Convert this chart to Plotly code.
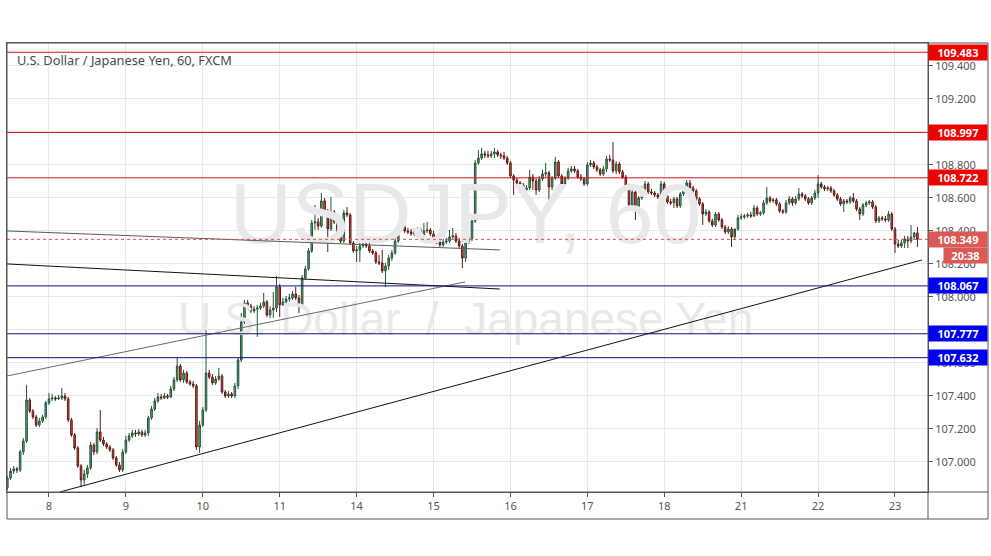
import plotly.graph_objects as go
import pandas as pd

# ---------------- data (USD/JPY, 60 min, FXCM) ----------------
opens = [106.842, 106.903, 106.945, 106.958, 106.952, 107.061, 107.127, 107.376, 107.309, 107.273, 107.224, 107.248, 107.273,
         107.358, 107.382, 107.388, 107.382, 107.388, 107.400, 107.382, 107.255, 107.164, 107.085, 106.976, 106.891, 106.927, 106.964, 107.103, 107.061, 107.182, 107.133, 107.109, 107.091, 107.073, 107.024, 106.982, 106.952,
         107.061, 107.133, 107.158, 107.176, 107.170, 107.182, 107.164, 107.176, 107.267, 107.321, 107.370, 107.394, 107.388, 107.400, 107.394, 107.442, 107.497, 107.582, 107.497, 107.539, 107.485, 107.473, 107.461, 107.091,
         107.224, 107.315, 107.539, 107.515, 107.479, 107.503, 107.521, 107.424, 107.400, 107.412, 107.400, 107.461, 107.618, 107.848, 107.964, 107.945, 107.915, 107.927, 107.933, 107.945, 107.970, 107.891, 107.921, 107.933,
         108.061, 107.952, 107.970, 107.988, 107.994, 108.018, 107.994, 107.952, 108.115, 108.170, 108.279, 108.448, 108.455, 108.430, 108.582, 108.521, 108.412, 108.515, 108.455, 108.382, 108.339, 108.509, 108.497, 108.327,
         108.279, 108.285, 108.309, 108.321, 108.309, 108.279, 108.267, 108.212, 108.206, 108.158, 108.188, 108.236, 108.267, 108.339, 108.430, 108.424, 108.400, 108.394, 108.382, 108.400, 108.406, 108.376, 108.400, 108.406,
         108.382, 108.352, 108.333, 108.315, 108.333, 108.339, 108.364, 108.370, 108.339, 108.309, 108.236, 108.333, 108.352, 108.461, 108.812, 108.842, 108.867, 108.861, 108.855, 108.867, 108.879, 108.861, 108.855, 108.842,
         108.812, 108.733, 108.709, 108.691, 108.679, 108.648, 108.661, 108.727, 108.703, 108.648, 108.715, 108.745, 108.752, 108.667, 108.721, 108.818, 108.733, 108.685, 108.721, 108.764, 108.776, 108.764, 108.727, 108.715,
         108.685, 108.800, 108.812, 108.788, 108.770, 108.745, 108.776, 108.836, 108.830, 108.764, 108.806, 108.758, 108.727, 108.673, 108.558, 108.636, 108.527, 108.600, 108.655, 108.685, 108.636, 108.630, 108.618, 108.606,
         108.685, 108.612, 108.576, 108.570, 108.594, 108.552, 108.624, 108.642, 108.691, 108.661, 108.642, 108.594, 108.564, 108.503, 108.515, 108.461, 108.436, 108.503, 108.467, 108.424, 108.394, 108.412, 108.364, 108.412,
         108.479, 108.485, 108.491, 108.497, 108.491, 108.539, 108.503, 108.509, 108.570, 108.600, 108.582, 108.588, 108.564, 108.521, 108.515, 108.570, 108.594, 108.570, 108.594, 108.624, 108.612, 108.594, 108.570, 108.600,
         108.630, 108.685, 108.667, 108.655, 108.661, 108.642, 108.618, 108.594, 108.564, 108.582, 108.576, 108.600, 108.582, 108.533, 108.503, 108.558, 108.570, 108.576, 108.545, 108.461, 108.479, 108.473, 108.467, 108.503,
         108.412, 108.321, 108.309, 108.327, 108.352, 108.339, 108.364, 108.388]

highs = [106.915, 106.964, 106.976, 106.970, 107.073, 107.145, 107.467, 107.388, 107.321, 107.285, 107.267, 107.285, 107.370,
         107.418, 107.412, 107.400, 107.406, 107.448, 107.418, 107.394, 107.267, 107.176, 107.097, 106.988, 106.952, 106.982, 107.121, 107.115, 107.206, 107.315, 107.152, 107.121, 107.103, 107.085, 107.036, 107.000, 107.079,
         107.158, 107.176, 107.194, 107.194, 107.200, 107.194, 107.194, 107.279, 107.339, 107.388, 107.418, 107.412, 107.418, 107.412, 107.461, 107.515, 107.636, 107.594, 107.558, 107.552, 107.497, 107.491, 107.473, 107.248,
         107.333, 107.800, 107.558, 107.533, 107.521, 107.570, 107.533, 107.436, 107.430, 107.424, 107.479, 107.636, 107.903, 107.982, 107.982, 107.958, 107.945, 107.952, 107.964, 108.024, 107.982, 107.945, 108.030, 108.127,
         108.079, 107.994, 108.006, 108.018, 108.036, 108.061, 108.012, 108.133, 108.188, 108.297, 108.467, 108.558, 108.479, 108.630, 108.600, 108.533, 108.606, 108.527, 108.467, 108.394, 108.527, 108.545, 108.509, 108.339,
         108.309, 108.327, 108.339, 108.364, 108.327, 108.291, 108.279, 108.255, 108.285, 108.206, 108.255, 108.285, 108.358, 108.448, 108.461, 108.442, 108.418, 108.412, 108.418, 108.424, 108.418, 108.448, 108.455, 108.418,
         108.400, 108.370, 108.352, 108.352, 108.358, 108.406, 108.418, 108.388, 108.358, 108.321, 108.345, 108.370, 108.479, 108.830, 108.891, 108.903, 108.885, 108.885, 108.885, 108.903, 108.891, 108.873, 108.879, 108.855,
         108.824, 108.745, 108.721, 108.703, 108.691, 108.679, 108.770, 108.745, 108.721, 108.733, 108.770, 108.812, 108.764, 108.733, 108.848, 108.830, 108.745, 108.733, 108.782, 108.794, 108.794, 108.776, 108.745, 108.727,
         108.818, 108.830, 108.824, 108.800, 108.782, 108.794, 108.855, 108.861, 108.939, 108.824, 108.818, 108.770, 108.739, 108.685, 108.655, 108.648, 108.612, 108.673, 108.703, 108.697, 108.655, 108.642, 108.630, 108.703,
         108.697, 108.624, 108.594, 108.606, 108.606, 108.636, 108.661, 108.709, 108.709, 108.673, 108.655, 108.606, 108.576, 108.533, 108.527, 108.473, 108.515, 108.515, 108.479, 108.436, 108.430, 108.424, 108.376, 108.497,
         108.503, 108.503, 108.509, 108.515, 108.558, 108.552, 108.521, 108.588, 108.667, 108.612, 108.600, 108.600, 108.576, 108.533, 108.588, 108.612, 108.606, 108.612, 108.661, 108.636, 108.624, 108.606, 108.612, 108.648,
         108.739, 108.697, 108.679, 108.673, 108.673, 108.655, 108.630, 108.606, 108.594, 108.594, 108.612, 108.630, 108.594, 108.545, 108.570, 108.582, 108.588, 108.588, 108.558, 108.491, 108.491, 108.491, 108.521, 108.515,
         108.424, 108.345, 108.345, 108.370, 108.370, 108.436, 108.394, 108.424]

lows = [106.830, 106.891, 106.927, 106.933, 106.939, 107.042, 107.115, 107.297, 107.261, 107.212, 107.212, 107.236, 107.261,
        107.345, 107.370, 107.370, 107.376, 107.376, 107.370, 107.242, 107.152, 107.073, 106.964, 106.848, 106.861, 106.903, 106.952, 107.042, 107.048, 107.121, 107.097, 107.079, 107.061, 107.012, 106.970, 106.939, 106.939,
        107.048, 107.121, 107.145, 107.152, 107.158, 107.152, 107.152, 107.158, 107.255, 107.309, 107.358, 107.376, 107.382, 107.382, 107.388, 107.430, 107.485, 107.485, 107.479, 107.473, 107.461, 107.448, 107.073, 107.055,
        107.212, 107.303, 107.503, 107.467, 107.467, 107.491, 107.412, 107.388, 107.388, 107.388, 107.388, 107.442, 107.606, 107.836, 107.933, 107.903, 107.903, 107.758, 107.921, 107.933, 107.879, 107.873, 107.873, 107.909,
        107.879, 107.945, 107.952, 107.970, 107.982, 107.982, 107.903, 107.939, 108.103, 108.158, 108.267, 108.406, 108.406, 108.418, 108.509, 108.273, 108.400, 108.442, 108.370, 108.327, 108.327, 108.485, 108.315, 108.267,
        108.212, 108.212, 108.297, 108.297, 108.267, 108.255, 108.200, 108.194, 108.145, 108.061, 108.164, 108.218, 108.255, 108.327, 108.406, 108.388, 108.382, 108.370, 108.370, 108.376, 108.364, 108.364, 108.388, 108.370,
        108.339, 108.321, 108.303, 108.303, 108.321, 108.327, 108.352, 108.327, 108.297, 108.176, 108.212, 108.321, 108.339, 108.448, 108.800, 108.830, 108.842, 108.842, 108.842, 108.842, 108.848, 108.836, 108.830, 108.800,
        108.721, 108.618, 108.679, 108.661, 108.630, 108.636, 108.648, 108.648, 108.618, 108.636, 108.703, 108.727, 108.576, 108.648, 108.709, 108.721, 108.673, 108.673, 108.709, 108.752, 108.752, 108.715, 108.703, 108.673,
        108.673, 108.788, 108.776, 108.758, 108.733, 108.733, 108.758, 108.818, 108.752, 108.745, 108.745, 108.715, 108.661, 108.539, 108.527, 108.467, 108.509, 108.588, 108.642, 108.624, 108.618, 108.606, 108.594, 108.594,
        108.600, 108.564, 108.558, 108.539, 108.539, 108.539, 108.612, 108.630, 108.648, 108.630, 108.582, 108.552, 108.436, 108.491, 108.448, 108.424, 108.424, 108.455, 108.412, 108.382, 108.382, 108.303, 108.345, 108.400,
        108.467, 108.473, 108.479, 108.479, 108.485, 108.491, 108.491, 108.497, 108.558, 108.570, 108.570, 108.552, 108.509, 108.503, 108.503, 108.558, 108.552, 108.558, 108.582, 108.600, 108.582, 108.558, 108.558, 108.588,
        108.600, 108.655, 108.642, 108.642, 108.630, 108.606, 108.582, 108.552, 108.515, 108.564, 108.564, 108.570, 108.521, 108.467, 108.491, 108.545, 108.558, 108.533, 108.448, 108.448, 108.461, 108.455, 108.455, 108.400,
        108.267, 108.297, 108.297, 108.297, 108.297, 108.327, 108.352, 108.303]

closes = [106.903, 106.945, 106.958, 106.952, 107.061, 107.127, 107.376, 107.309, 107.273, 107.224, 107.248, 107.273, 107.358,
          107.382, 107.388, 107.382, 107.388, 107.400, 107.382, 107.255, 107.164, 107.085, 106.976, 106.891, 106.927, 106.964, 107.103, 107.061, 107.182, 107.133, 107.109, 107.091, 107.073, 107.024, 106.982, 106.952, 107.061,
          107.133, 107.158, 107.176, 107.170, 107.182, 107.164, 107.176, 107.267, 107.321, 107.370, 107.394, 107.388, 107.400, 107.394, 107.442, 107.497, 107.582, 107.497, 107.539, 107.485, 107.473, 107.461, 107.091, 107.224,
          107.315, 107.539, 107.515, 107.479, 107.503, 107.521, 107.424, 107.400, 107.412, 107.400, 107.461, 107.618, 107.848, 107.964, 107.945, 107.915, 107.927, 107.933, 107.945, 107.970, 107.891, 107.921, 107.933, 108.061,
          107.952, 107.970, 107.988, 107.994, 108.018, 107.994, 107.952, 108.115, 108.170, 108.279, 108.448, 108.455, 108.430, 108.582, 108.521, 108.412, 108.515, 108.455, 108.382, 108.339, 108.509, 108.497, 108.327, 108.279,
          108.285, 108.309, 108.321, 108.309, 108.279, 108.267, 108.212, 108.206, 108.158, 108.188, 108.236, 108.267, 108.339, 108.430, 108.424, 108.400, 108.394, 108.382, 108.400, 108.406, 108.376, 108.400, 108.406, 108.382,
          108.352, 108.333, 108.315, 108.333, 108.339, 108.364, 108.370, 108.339, 108.309, 108.236, 108.333, 108.352, 108.461, 108.812, 108.842, 108.867, 108.861, 108.855, 108.867, 108.879, 108.861, 108.855, 108.842, 108.812,
          108.733, 108.709, 108.691, 108.679, 108.648, 108.661, 108.727, 108.703, 108.648, 108.715, 108.745, 108.752, 108.667, 108.721, 108.818, 108.733, 108.685, 108.721, 108.764, 108.776, 108.764, 108.727, 108.715, 108.685,
          108.800, 108.812, 108.788, 108.770, 108.745, 108.776, 108.836, 108.830, 108.764, 108.806, 108.758, 108.727, 108.673, 108.558, 108.636, 108.527, 108.600, 108.655, 108.685, 108.636, 108.630, 108.618, 108.606, 108.685,
          108.612, 108.576, 108.570, 108.594, 108.552, 108.624, 108.642, 108.691, 108.661, 108.642, 108.594, 108.564, 108.503, 108.515, 108.461, 108.436, 108.503, 108.467, 108.424, 108.394, 108.412, 108.364, 108.412, 108.479,
          108.485, 108.491, 108.497, 108.491, 108.539, 108.503, 108.509, 108.570, 108.600, 108.582, 108.588, 108.564, 108.521, 108.515, 108.570, 108.594, 108.570, 108.594, 108.624, 108.612, 108.594, 108.570, 108.600, 108.630,
          108.685, 108.667, 108.655, 108.661, 108.642, 108.618, 108.594, 108.564, 108.582, 108.576, 108.600, 108.582, 108.533, 108.503, 108.558, 108.570, 108.576, 108.545, 108.461, 108.479, 108.473, 108.467, 108.503, 108.412,
          108.321, 108.309, 108.327, 108.352, 108.339, 108.364, 108.388, 108.349]

# hourly bars, Jan 7 11:00 -> Jan 23 07:00 (2019), weekend (Fri 17:00 - Sun 17:00) skipped
first_bar = "2019-01-07 11:00"
last_bar = "2019-01-23 07:00"

tick_dates = ["2019-01-08", "2019-01-09", "2019-01-10", "2019-01-11", "2019-01-14", "2019-01-15",
              "2019-01-16", "2019-01-17", "2019-01-18", "2019-01-21", "2019-01-22", "2019-01-23"]
tick_text = ["8", "9", "10", "11", "14", "15", "16", "17", "18", "21", "22", "23"]

price_ticks = [107.0, 107.2, 107.4, 107.6, 107.8, 108.0, 108.2, 108.4, 108.6, 108.8, 109.0, 109.2, 109.4]

resistance_levels = [109.483, 108.997, 108.722]
support_levels = [108.067, 107.777, 107.632]
countdown = "20:38"

# trend lines: (bar index start, price start, bar index end, price end, colour)
trend_lines = [
    (-0.1, 108.400, 153.7, 108.285, "#5a5a5a"),
    (-0.1, 108.200, 153.7, 108.048, "#111111"),
    (-0.1, 107.521, 142.8, 108.091, "#6a6a6a"),
    (16.4, 106.818, 285.4, 108.224, "#111111"),
]

# watermark
wm_symbol = "USDJPY, 60"
wm_name = "U.S. Dollar  /  Japanese Yen"

# ---------------- build ----------------
def is_open(t):
    wd = t.weekday()
    if wd == 5:
        return False
    if wd == 4 and t.hour >= 17:
        return False
    if wd == 6 and t.hour < 17:
        return False
    return True

times = [t.strftime("%Y-%m-%d %H:%M") for t in pd.date_range(first_bar, last_bar, freq="h") if is_open(t)]
tick_vals = [d + " 00:00" for d in tick_dates]
last_price = closes[-1]

FONT = "Noto Sans"
AX = "#555555"

fig = go.Figure()

# watermark (under the candles)
fig.add_trace(go.Scatter(x=[times[143]], y=[108.455], mode="text", text=[wm_symbol],
                         textfont=dict(size=86, color="#e8e8ea", family="Liberation Sans"),
                         hoverinfo="skip", showlegend=False, cliponaxis=False))
fig.add_trace(go.Scatter(x=[times[143]], y=[107.842], mode="text", text=[wm_name],
                         textfont=dict(size=46, color="#e8e8ea", family="Liberation Sans"),
                         hoverinfo="skip", showlegend=False, cliponaxis=False))

fig.add_trace(go.Candlestick(
    x=times, open=opens, high=highs, low=lows, close=closes,
    increasing=dict(fillcolor="#6ba583", line=dict(color="#225437", width=1)),
    decreasing=dict(fillcolor="#d75442", line=dict(color="#5b1a13", width=1)),
    whiskerwidth=0, showlegend=False))

shapes = []
for (x0, p0, x1, p1, col) in trend_lines:
    shapes.append(dict(type="line", xref="x", yref="y", x0=x0, y0=p0, x1=x1, y1=p1,
                       line=dict(color=col, width=1)))
for lv in resistance_levels:
    shapes.append(dict(type="line", xref="paper", yref="y", x0=0, x1=1, y0=lv, y1=lv,
                       line=dict(color="#d01414", width=1)))
for lv in support_levels:
    shapes.append(dict(type="line", xref="paper", yref="y", x0=0, x1=1, y0=lv, y1=lv,
                       line=dict(color="#10107a", width=1)))
shapes.append(dict(type="line", xref="paper", yref="y", x0=0, x1=1, y0=last_price, y1=last_price,
                   line=dict(color="#d9534f", width=1, dash="dot")))

# outer frame (plot + scales)
PW, PH = 921.0, 449.0
xr = (988 - 7) / PW
yb = -(519 - 492) / PH
shapes.append(dict(type="rect", xref="paper", yref="paper", x0=0, x1=xr, y0=yb, y1=1,
                   line=dict(color=AX, width=1), fillcolor="rgba(0,0,0,0)", layer="above"))
shapes.append(dict(type="line", xref="paper", yref="paper", x0=1, x1=1, y0=yb, y1=1,
                   line=dict(color=AX, width=1)))
shapes.append(dict(type="line", xref="paper", yref="paper", x0=0, x1=xr, y0=0, y1=0,
                   line=dict(color=AX, width=1)))

annotations = []
for lv in resistance_levels:
    annotations.append(dict(xref="paper", yref="y", x=1, y=lv, xanchor="left", yanchor="middle",
                            text="<b>%.3f</b>" % lv, showarrow=False, bgcolor="#f00000",
                            font=dict(color="white", size=11, family=FONT), width=56, height=13, borderpad=1))
for lv in support_levels:
    annotations.append(dict(xref="paper", yref="y", x=1, y=lv, xanchor="left", yanchor="middle",
                            text="<b>%.3f</b>" % lv, showarrow=False, bgcolor="#0000f0",
                            font=dict(color="white", size=11, family=FONT), width=56, height=13, borderpad=1))
annotations.append(dict(xref="paper", yref="y", x=1, y=last_price, xanchor="left", yanchor="middle",
                        text="<b>%.3f</b>" % last_price, showarrow=False, bgcolor="#dc5a55",
                        font=dict(color="white", size=11, family=FONT), width=56, height=13, borderpad=1))
annotations.append(dict(xref="paper", yref="y", x=1, y=last_price, xanchor="left", yanchor="middle",
                        xshift=15, yshift=-16, text="<b>%s</b>" % countdown, showarrow=False, bgcolor="#dc5a55",
                        font=dict(color="white", size=11, family=FONT), width=41, height=13, borderpad=1))
annotations.append(dict(xref="paper", yref="paper", x=(15 - 7) / PW, y=1 - (60 - 43) / PH,
                        xanchor="left", yanchor="middle", showarrow=False,
                        text="U.S. Dollar / Japanese Yen, 60, FXCM",
                        font=dict(color="#4a4a4a", size=12.8, family=FONT)))

fig.update_layout(
    width=991, height=556,
    margin=dict(l=7, r=63, t=43, b=64),
    paper_bgcolor="white", plot_bgcolor="white",
    showlegend=False, shapes=shapes, annotations=annotations,
    xaxis=dict(type="category", categoryorder="array", categoryarray=times,
               range=[-0.1, 287.3], tickvals=tick_vals, ticktext=tick_text,
               showgrid=True, gridcolor="#e8e8ea", gridwidth=1, ticks="outside", ticklen=4,
               tickcolor=AX, tickfont=dict(size=11, color="#555555", family=FONT),
               showline=True, linecolor=AX, mirror=True, rangeslider=dict(visible=False),
               zeroline=False, fixedrange=True),
    yaxis=dict(side="right", range=[106.818, 109.539], tickvals=price_ticks,
               ticktext=["%.3f" % v for v in price_ticks],
               showgrid=True, gridcolor="#e8e8ea", gridwidth=1, ticks="outside", ticklen=4,
               tickcolor=AX, tickfont=dict(size=11, color="#555555", family=FONT),
               showline=True, linecolor=AX, mirror=True, zeroline=False, fixedrange=True),
)

fig.write_html("out.html", config={"displayModeBar": False},
               post_script="document.body.style.margin='0';document.body.style.overflow='hidden';")
